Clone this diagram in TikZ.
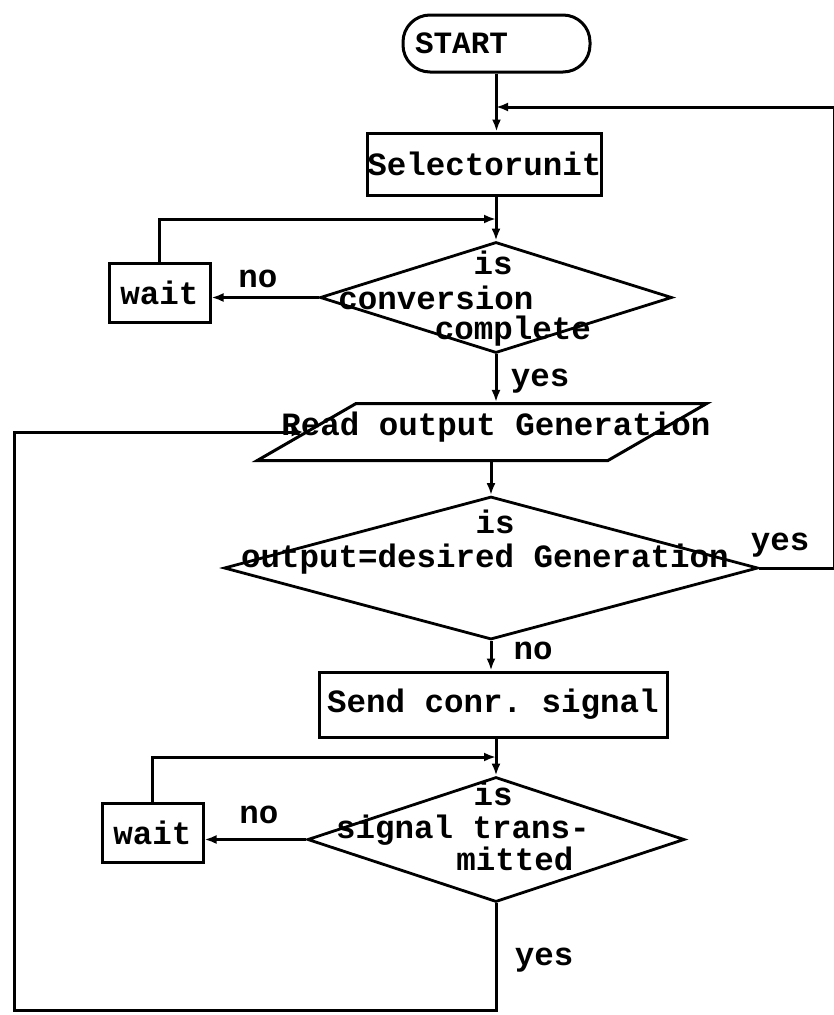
\documentclass[tikz,border=0pt]{standalone}
\usepackage{fontspec}
\setmonofont{Liberation Mono}
\usetikzlibrary{shapes.geometric,arrows.meta,calc}
\begin{document}
\begin{tikzpicture}[x=1pt,y=-1pt,
  every node/.style={font=\ttfamily\bfseries\fontsize{32.5}{36}\selectfont, inner sep=0pt},
  box/.style={draw, rectangle, line width=3pt},
  dia/.style={draw, diamond, line width=2.8pt},
  para/.style={draw, trapezium, trapezium left angle=66, trapezium right angle=114,
    trapezium stretches=true, line width=3pt},
  txt/.style={anchor=base},
  arr/.style={line width=3pt, -{Latex[length=12pt,width=9pt]}}
]
\useasboundingbox (0,0) rectangle (834,1015);

% nodes
\node[box, rounded corners=27pt, minimum width=187pt, minimum height=57pt,
      text width=163pt, align=left, inner xsep=12pt,
      font=\ttfamily\bfseries\fontsize{31}{34}\selectfont] (start) at (496.5,43.5) {START};
\node[box, minimum width=231pt, minimum height=62pt] (sel) at (484.5,164) {Selectorunit};

\node[dia, minimum width=352pt, minimum height=111pt] (d1) at (496,297.5) {};
\node[txt] (d1a) at (493,274) {is};
\node[txt] (d1b) at (436,309) {conversion};
\node[txt] (d1c) at (513,339) {complete};

\node[box, minimum width=101pt, minimum height=59pt] (w1) at (159.5,292.5) {wait};

\node[para, minimum width=450pt, minimum height=57pt] (rd) at (482,432) {\phantom{x}};
\node[txt] (rdt) at (496,435) {Read output Generation};

\node[dia, minimum width=534pt, minimum height=143pt] (d2) at (491,568) {};
\node[txt] (d2a) at (495,533) {is};
\node[txt] (d2b) at (485,567) {output=desired Generation};

\node[box, minimum width=348pt, minimum height=65pt] (send) at (493,704.5) {Send conr. signal};

\node[dia, minimum width=377pt, minimum height=125pt] (d3) at (496,839.5) {};
\node[txt] (d3a) at (493,805) {is};
\node[txt] (d3b) at (463,838) {signal trans-};
\node[txt] (d3c) at (515,870) {mitted};

\node[box, minimum width=101pt, minimum height=59pt] (w2) at (152.5,832.5) {wait};

% labels
\node[txt] (no1) at (258,287) {no};
\node[txt] (yes1) at (540,386) {yes};
\node[txt] (yes2) at (780,550) {yes};
\node[txt] (no2) at (533,659) {no};
\node[txt] (no3) at (259,823) {no};
\node[txt] (yes3) at (544,965) {yes};

% junction coordinates
\coordinate (j1) at (496,107);
\coordinate (j2) at (496,219);
\coordinate (j3) at (496,757);
\coordinate (rt) at (834,107);
\coordinate (bl) at (14,1010);
\coordinate (rdw) at ($(rd.top left corner)!0.5!(rd.bottom left corner)$);

% connectors
\draw[arr] (start.south) -- (start.south |- sel.north);
\draw[arr] (sel.south -| d1.north) -- (d1.north);
\draw[arr] (d1.west) -- (d1.west -| w1.east);
\draw[arr] (w1.north) |- (j2);
\draw[arr] (d1.south) -- (d1.south |- rd.north);
\draw[arr] (d2.north |- rd.south) -- (d2.north);
\draw[arr] (d2.east) -| (rt) -- (j1);
\draw[arr] (d2.south) -- (d2.south |- send.north);
\draw[arr] (send.south -| d3.north) -- (d3.north);
\draw[arr] (d3.west) -- (d3.west -| w2.east);
\draw[arr] (w2.north) |- (j3);
\draw[arr] (d3.south) |- (bl) |- (rdw);
\end{tikzpicture}
\end{document}
